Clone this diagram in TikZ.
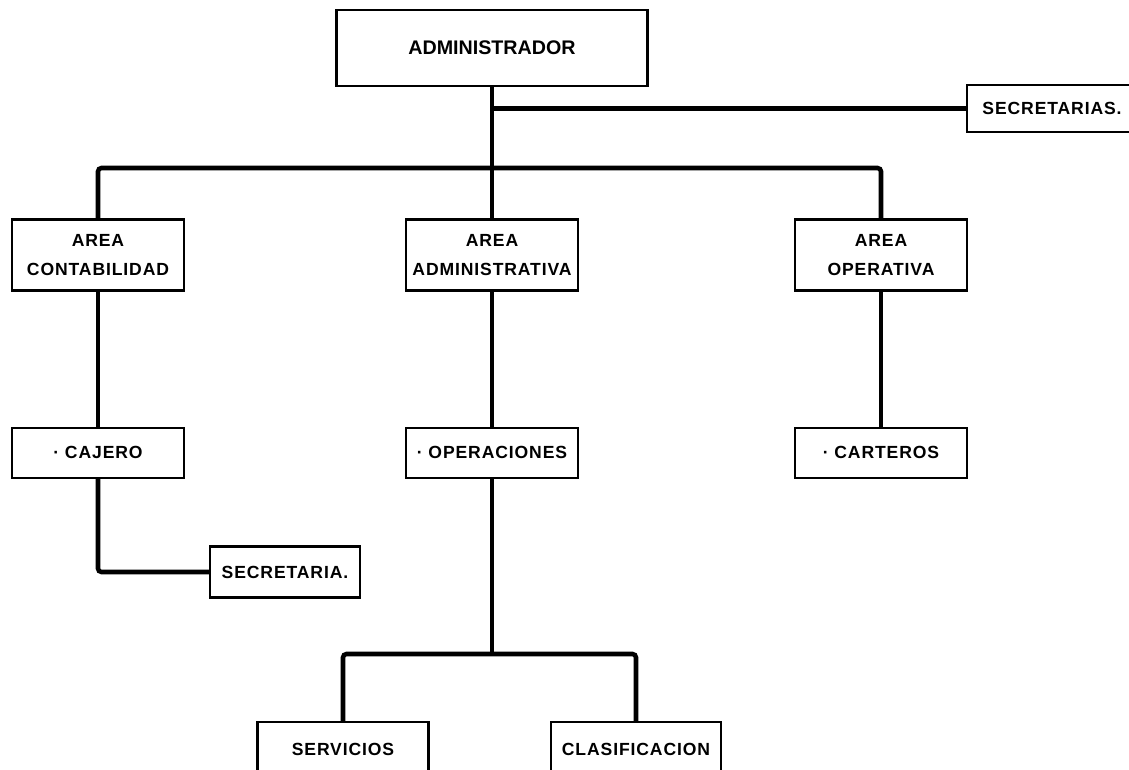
\documentclass[tikz,border=0pt]{standalone}
\usepackage{fontspec}
\setmainfont{Liberation Sans}
\newfontfamily\orgfont[LetterSpace=5]{Liberation Sans}
\usetikzlibrary{positioning}
\tikzset{
  unit/.style  = {rectangle, draw=black, line width=1.3pt, fill=white, align=center,
                  inner sep=2pt, font=\orgfont\bfseries\fontsize{10}{16}\selectfont},
  head/.style  = {unit, minimum width=6.22cm, minimum height=1.52cm,
                  font=\bfseries\fontsize{11.2}{14}\selectfont},
  area/.style  = {unit, minimum width=3.45cm, minimum height=1.42cm},
  post/.style  = {unit, minimum width=3.45cm, minimum height=1.0cm},
  aide/.style  = {unit, minimum width=3.0cm, minimum height=1.02cm},
  link/.style  = {line width=2.6pt, rounded corners=2pt},
}

\begin{document}
\begin{tikzpicture}[x=0.02cm, y=-0.02cm, node distance=2.7cm]
\useasboundingbox (0,0) rectangle (1129,770);
\clip (0,0) rectangle (1129,770);

\node[head] (admin) at (492,48) {ADMINISTRADOR};
\node[unit, minimum width=3.4cm, minimum height=0.94cm] (secs) at (1052,108.5) {SECRETARIAS.};

\node[area] (contab) at (98,255) {AREA\\CONTABILIDAD};
\node[area] (admarea) at (492,255) {AREA\\ADMINISTRATIVA};
\node[area] (operat) at (881,255) {AREA\\OPERATIVA};

\node[post, below=of contab] (cajero) {· CAJERO};
\node[post, below=of admarea] (oper) {· OPERACIONES};
\node[post, below=of operat] (carteros) {· CARTEROS};

\node[aide] (secre) at (285,572) {SECRETARIA.};

\node[post, minimum width=3.42cm, minimum height=1.08cm] (serv) at (343,749) {SERVICIOS};
\node[post, minimum width=3.4cm, minimum height=1.08cm] (clasif) at (636,749) {CLASIFICACION};

\coordinate (bus) at (492,168);
\coordinate (tap) at (admin.south |- secs.west);
\coordinate (bus2) at (492,654);

\draw[link] (admin.south) -- (admarea.north);
\draw[link] (tap) -- (secs.west);
\draw[link] (contab.north) |- (bus) -| (operat.north);
\draw[link] (contab) -- (cajero);
\draw[link] (admarea) -- (oper);
\draw[link] (operat) -- (carteros);
\draw[link] (cajero.south) |- (secre.west);
\draw[link] (oper.south) -- (bus2);
\draw[link] (serv.north) |- (bus2) -| (clasif.north);

\end{tikzpicture}
\end{document}
